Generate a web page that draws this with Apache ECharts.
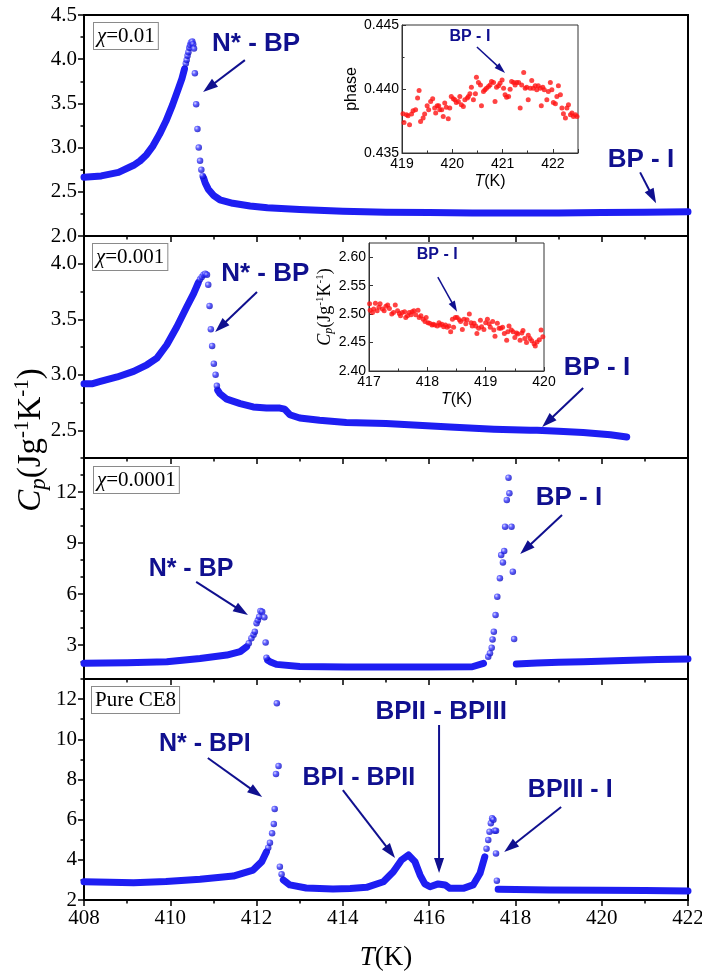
<!DOCTYPE html>
<html>
<head>
<meta charset="utf-8">
<script src="https://cdn.jsdelivr.net/npm/echarts@6/dist/echarts.min.js"></script>
<style>
html, body { margin: 0; padding: 0; background: #fff; }
#chart-container { width: 702px; height: 971px; }
</style>
</head>
<body>
<div id="chart-container"></div>
<script>
var dom = document.getElementById('chart-container');
var myChart = echarts.init(dom);
var option;

// chi = 0.01 : [T (K), Cp (J/gK)]
var chi01Rise = [[408.0, 2.665], [408.4, 2.68], [408.8, 2.72], [409.15, 2.80], [409.3, 2.85], [409.45, 2.92],
  [409.6, 3.02], [409.75, 3.15], [409.9, 3.30], [410.05, 3.48], [410.19, 3.67], [410.27, 3.78], [410.33, 3.89]];
var chi01Peak = [[410.36, 3.95], [410.38, 3.99], [410.40, 4.04], [410.42, 4.08], [410.44, 4.13], [410.46, 4.16],
  [410.48, 4.19], [410.51, 4.20], [410.53, 4.17], [410.55, 4.12], [410.57, 3.84], [410.60, 3.49], [410.63, 3.21],
  [410.66, 3.00], [410.69, 2.85], [410.72, 2.75], [410.75, 2.68]];
var chi01Tail = [[410.77, 2.66], [410.81, 2.60], [410.88, 2.53], [411.0, 2.46], [411.15, 2.41], [411.45, 2.37],
  [411.85, 2.34], [412.25, 2.32], [413.0, 2.30], [414.0, 2.28], [415.0, 2.27], [416.0, 2.265], [417.0, 2.26],
  [418.0, 2.26], [419.0, 2.26], [420.0, 2.265], [421.0, 2.27], [422.0, 2.275]];

// chi = 0.001
var chi001Rise = [[408.0, 2.92], [408.2, 2.92], [408.38, 2.94], [408.77, 2.98], [409.15, 3.03], [409.46, 3.09],
  [409.69, 3.15], [409.92, 3.27], [410.15, 3.43], [410.38, 3.61], [410.54, 3.73], [410.65, 3.83]];
var chi001Peak = [[410.69, 3.86], [410.73, 3.88], [410.77, 3.90], [410.81, 3.91], [410.85, 3.90], [410.88, 3.81],
  [410.91, 3.62], [410.94, 3.41], [410.97, 3.26], [411.01, 3.10], [411.05, 3.00], [411.08, 2.90]];
var chi001Tail = [[411.1, 2.86], [411.15, 2.83], [411.31, 2.78], [411.62, 2.74], [411.92, 2.71], [412.23, 2.70],
  [412.54, 2.70], [412.65, 2.69], [412.77, 2.64], [413.0, 2.61], [413.46, 2.59], [414.08, 2.57], [415.0, 2.56],
  [416.48, 2.53], [417.5, 2.51], [418.34, 2.50], [418.5, 2.50], [419.0, 2.49], [419.57, 2.48], [420.2, 2.46],
  [420.58, 2.44]];

// chi = 0.0001
var chi0001Flat1 = [[408.0, 1.92], [409.0, 1.95], [409.92, 2.02], [410.69, 2.21], [411.31, 2.41], [411.62, 2.61],
  [411.77, 2.90]];
var chi0001Peak1 = [[411.82, 3.10], [411.88, 3.39], [411.93, 3.60], [411.96, 3.78], [412.0, 4.28], [412.03, 4.45],
  [412.06, 4.66], [412.09, 5.00], [412.13, 4.95], [412.18, 4.63], [412.21, 3.14], [412.23, 2.25]];
var chi0001Flat2 = [[412.26, 2.10], [412.31, 2.02], [412.46, 1.86], [413.0, 1.74], [414.08, 1.70], [415.0, 1.70],
  [416.0, 1.71], [417.0, 1.72], [417.26, 1.92]];
var chi0001Peak2 = [[417.37, 2.31], [417.41, 2.51], [417.45, 2.84], [417.47, 3.33], [417.50, 3.78], [417.54, 4.76],
  [417.58, 5.84], [417.64, 6.92], [417.71, 7.86], [417.67, 8.29], [417.74, 8.53], [417.76, 9.96], [417.91, 9.96],
  [417.80, 11.53], [417.86, 11.92], [417.84, 12.84], [417.94, 7.31], [417.97, 3.35]];
var chi0001Flat3 = [[418.02, 1.88], [418.5, 1.94], [419.0, 1.98], [419.57, 2.02], [420.5, 2.09], [421.3, 2.14],
  [422.0, 2.18]];

// pure CE8
var ce8Flat1 = [[408.0, 2.91], [408.6, 2.88], [409.15, 2.86], [409.9, 2.92], [410.69, 3.03], [411.46, 3.19],
  [411.92, 3.49], [412.12, 3.91], [412.23, 4.40]];
var ce8Peak1 = [[412.27, 4.60], [412.31, 4.85], [412.36, 5.32], [412.40, 5.78], [412.42, 6.53], [412.45, 8.27],
  [412.51, 8.67], [412.47, 11.79], [412.54, 3.66], [412.58, 3.28]];
var ce8Mid = [[412.62, 3.00], [412.77, 2.75], [413.15, 2.60], [413.77, 2.55], [414.17, 2.57], [414.55, 2.63],
  [414.94, 2.91], [415.17, 3.41], [415.36, 3.99], [415.52, 4.24], [415.67, 3.91], [415.79, 3.24], [415.90, 2.80],
  [416.02, 2.66], [416.21, 2.80], [416.37, 2.75], [416.48, 2.58], [416.79, 2.58], [417.02, 2.75], [417.18, 3.33],
  [417.29, 4.15]];
var ce8Peak2 = [[417.33, 4.55], [417.37, 4.99], [417.40, 5.40], [417.43, 5.82], [417.46, 6.07], [417.49, 6.00],
  [417.52, 5.45], [417.55, 5.45], [417.55, 4.32], [417.57, 2.96]];
var ce8Flat2 = [[417.60, 2.53], [418.0, 2.52], [418.79, 2.50], [420.0, 2.48], [421.0, 2.47], [422.0, 2.45]];

// inset of chi = 0.01 : phase vs T
var phaseData = [[419.02, 0.43806], [419.04, 0.43739], [419.09, 0.43799], [419.12, 0.43791], [419.15, 0.43721],
  [419.19, 0.43804], [419.22, 0.43830], [419.27, 0.43838], [419.31, 0.43929], [419.34, 0.43988], [419.37, 0.43747],
  [419.42, 0.43773], [419.45, 0.43804], [419.50, 0.43869], [419.53, 0.43838], [419.57, 0.43903], [419.61, 0.43923],
  [419.65, 0.43851], [419.67, 0.43812], [419.70, 0.43869], [419.73, 0.43869], [419.75, 0.43838], [419.79, 0.43838],
  [419.82, 0.43786], [419.85, 0.43890], [419.88, 0.43858], [419.92, 0.43768], [419.95, 0.43851], [419.98, 0.43942],
  [420.02, 0.43923], [420.05, 0.43916], [420.08, 0.43895], [420.12, 0.43903], [420.15, 0.43942], [420.18, 0.43877],
  [420.22, 0.43864], [420.25, 0.43916], [420.30, 0.43929], [420.32, 0.43942], [420.35, 0.43962], [420.38, 0.44014],
  [420.42, 0.43916], [420.46, 0.43962], [420.48, 0.44092], [420.52, 0.44051], [420.56, 0.44032], [420.58, 0.43869],
  [420.62, 0.43981], [420.65, 0.43994], [420.68, 0.44006], [420.72, 0.44019], [420.75, 0.44032], [420.78, 0.44058],
  [420.82, 0.44051], [420.85, 0.43903], [420.88, 0.44014], [420.92, 0.44025], [420.95, 0.44045], [420.99, 0.44071],
  [421.02, 0.44006], [421.05, 0.43955], [421.08, 0.43936], [421.12, 0.43942], [421.15, 0.43999], [421.18, 0.44058],
  [421.22, 0.44051], [421.25, 0.44032], [421.28, 0.44051], [421.32, 0.44051], [421.35, 0.43851], [421.38, 0.44032],
  [421.42, 0.44129], [421.45, 0.44006], [421.48, 0.44014], [421.51, 0.43916], [421.55, 0.44006], [421.58, 0.44066],
  [421.61, 0.44006], [421.65, 0.44025], [421.68, 0.43994], [421.71, 0.44025], [421.75, 0.44006], [421.77, 0.43869],
  [421.80, 0.44014], [421.83, 0.43994], [421.88, 0.43916], [421.91, 0.43981], [421.95, 0.44051], [421.98, 0.43994],
  [422.01, 0.43895], [422.05, 0.43884], [422.08, 0.43942], [422.11, 0.44025], [422.15, 0.43955], [422.18, 0.43851],
  [422.21, 0.43806], [422.25, 0.43773], [422.28, 0.43851], [422.31, 0.43877], [422.35, 0.43799], [422.38, 0.43812],
  [422.41, 0.43786], [422.45, 0.43799], [422.48, 0.43786]];

// inset of chi = 0.001 : Cp vs T
var cpInsetData = [[417.01, 2.518], [417.02, 2.507], [417.06, 2.503], [417.08, 2.509], [417.11, 2.519], [417.14, 2.506],
  [417.17, 2.512], [417.19, 2.518], [417.23, 2.509], [417.26, 2.506], [417.29, 2.514], [417.32, 2.516], [417.35, 2.510],
  [417.39, 2.500], [417.42, 2.503], [417.45, 2.516], [417.49, 2.506], [417.52, 2.501], [417.54, 2.497], [417.57, 2.503],
  [417.61, 2.504], [417.63, 2.494], [417.66, 2.497], [417.69, 2.503], [417.72, 2.499], [417.74, 2.504], [417.77, 2.506],
  [417.80, 2.499], [417.84, 2.507], [417.86, 2.494], [417.89, 2.497], [417.93, 2.491], [417.96, 2.487], [417.98, 2.494],
  [418.01, 2.485], [418.04, 2.484], [418.08, 2.481], [418.10, 2.482], [418.13, 2.481], [418.17, 2.479], [418.20, 2.485],
  [418.22, 2.481], [418.25, 2.482], [418.28, 2.478], [418.31, 2.481], [418.34, 2.477], [418.37, 2.479], [418.40, 2.469],
  [418.43, 2.491], [418.45, 2.477], [418.48, 2.494], [418.51, 2.494], [418.55, 2.490], [418.57, 2.487], [418.60, 2.473],
  [418.63, 2.491], [418.66, 2.483], [418.68, 2.490], [418.72, 2.500], [418.75, 2.485], [418.77, 2.479], [418.80, 2.484],
  [418.83, 2.479], [418.85, 2.466], [418.88, 2.475], [418.91, 2.489], [418.93, 2.478], [418.97, 2.473], [419.00, 2.485],
  [419.03, 2.491], [419.06, 2.483], [419.08, 2.477], [419.12, 2.487], [419.14, 2.472], [419.16, 2.461], [419.20, 2.484],
  [419.23, 2.475], [419.26, 2.475], [419.29, 2.477], [419.32, 2.466], [419.36, 2.454], [419.38, 2.469], [419.40, 2.479],
  [419.44, 2.472], [419.47, 2.469], [419.50, 2.459], [419.53, 2.467], [419.55, 2.465], [419.59, 2.454], [419.62, 2.467],
  [419.64, 2.471], [419.67, 2.457], [419.70, 2.450], [419.73, 2.463], [419.76, 2.457], [419.79, 2.453], [419.83, 2.448],
  [419.85, 2.444], [419.88, 2.451], [419.92, 2.455], [419.95, 2.472], [419.98, 2.460]];

// y axis ticks of the four panels
var yMin = [2, 2.25, 1, 2];
var yMax = [4.5, 4.25, 14, 13];
var yMajor = [[2.0, 2.5, 3.0, 3.5, 4.0, 4.5], [2.5, 3.0, 3.5, 4.0], [3, 6, 9, 12], [2, 4, 6, 8, 10, 12]];
var yMinor = [[2.25, 2.75, 3.25, 3.75, 4.25], [2.25, 2.75, 3.25, 3.75, 4.25], [1, 2, 4, 5, 7, 8, 10, 11, 13, 14],
  [3, 5, 7, 9, 11, 13]];
var yDigits = [1, 1, 0, 0];

var navy = '#10108f';
var serif = 'Liberation Serif';
var sans = 'Liberation Sans';
var sphere = {
  type: 'radial', x: 0.35, y: 0.35, r: 0.75,
  colorStops: [{offset: 0, color: '#d0d0ff'}, {offset: 0.4, color: '#3838ff'}, {offset: 1, color: '#0000b0'}]
};

var grids = [];
var xAxes = [];
var yAxes = [];
var series = [];
var tops = [15, 236, 458, 679];
var heights = [221, 222, 221, 221];

for (var g = 0; g < 4; g++) {
  grids.push({left: 84, right: 14, top: tops[g], height: heights[g], show: true, outerBoundsMode: 'none',
    borderColor: '#000', borderWidth: 2, backgroundColor: 'transparent'});
  var last = g === 3;
  xAxes.push({
    type: 'value', gridIndex: g, min: 408, max: 422, interval: 2,
    axisLine: {show: true, onZero: false, lineStyle: {color: '#000', width: 2}},
    axisTick: {show: true, inside: false, length: 6, lineStyle: {color: '#000', width: 1.5}},
    minorTick: {show: true, splitNumber: 2, length: 3.5, lineStyle: {color: '#000', width: 1.5}},
    splitLine: {show: false},
    axisLabel: {show: last, fontFamily: serif, fontSize: 21, color: '#000', margin: 8},
    name: last ? '{i|T}(K)' : '',
    nameLocation: 'middle', nameGap: 44,
    nameTextStyle: {fontFamily: serif, fontSize: 27, color: '#000',
      rich: {i: {fontFamily: serif, fontSize: 27, fontStyle: 'italic', color: '#000'}}}
  });
}

// inset grids (index 4, 5)
grids.push({left: 402, top: 25, width: 176, height: 128, show: true, outerBoundsMode: 'none',
  borderColor: '#333', borderWidth: 1, backgroundColor: '#fff', z: 5});
grids.push({left: 369, top: 243, width: 175, height: 128, show: true, outerBoundsMode: 'none',
  borderColor: '#333', borderWidth: 1, backgroundColor: '#fff', z: 5});

function insetX(gi, min, max, showMax) {
  return {
    type: 'value', gridIndex: gi, min: min, max: max, interval: 1, z: 6,
    axisLine: {show: true, onZero: false, lineStyle: {color: '#333', width: 1}},
    axisTick: {show: true, inside: true, length: 4, lineStyle: {color: '#333'}},
    minorTick: {show: true, splitNumber: 2, length: 2.5, lineStyle: {color: '#333'}},
    splitLine: {show: false},
    axisLabel: {fontFamily: sans, fontSize: 14, color: '#000', margin: 4, showMaxLabel: showMax},
    name: '{i|T}(K)', nameLocation: 'middle', nameGap: 21,
    nameTextStyle: {fontFamily: sans, fontSize: 16, color: '#000',
      rich: {i: {fontFamily: sans, fontSize: 16, fontStyle: 'italic', color: '#000'}}}
  };
}
xAxes.push(insetX(4, 419, 422.5, false));
xAxes.push(insetX(5, 417, 420, true));

for (g = 0; g < 4; g++) {
  (function (g) {
    yAxes.push({
      type: 'value', gridIndex: g, min: yMin[g], max: yMax[g], position: 'left',
      axisLine: {show: true, onZero: false, lineStyle: {color: '#000', width: 2}},
      axisTick: {show: true, inside: false, length: 6, customValues: yMajor[g], lineStyle: {color: '#000', width: 1.5}},
      axisLabel: {customValues: yMajor[g], fontFamily: serif, fontSize: 21, color: '#000', margin: 7,
        formatter: function (v) { return v.toFixed(yDigits[g]); }},
      splitLine: {show: false}
    });
  })(g);
}

yAxes.push({
  type: 'value', gridIndex: 4, min: 0.435, max: 0.445, interval: 0.005, z: 6,
  axisLine: {show: true, onZero: false, lineStyle: {color: '#333', width: 1}},
  axisTick: {show: true, inside: true, length: 4, lineStyle: {color: '#333'}},
  minorTick: {show: true, splitNumber: 2, length: 2.5, lineStyle: {color: '#333'}},
  splitLine: {show: false},
  axisLabel: {fontFamily: sans, fontSize: 14, color: '#000', margin: 3,
    formatter: function (v) { return v.toFixed(3); }},
  name: 'phase', nameLocation: 'middle', nameRotate: 90, nameGap: 40,
  nameTextStyle: {fontFamily: sans, fontSize: 16, color: '#000'}
});
yAxes.push({
  type: 'value', gridIndex: 5, min: 2.4, max: 2.625, interval: 0.05, z: 6,
  axisLine: {show: true, onZero: false, lineStyle: {color: '#333', width: 1}},
  axisTick: {show: true, inside: true, length: 4, lineStyle: {color: '#333'}},
  splitLine: {show: false},
  axisLabel: {fontFamily: sans, fontSize: 14, color: '#000', margin: 3, showMaxLabel: false,
    formatter: function (v) { return v.toFixed(2); }},
  name: '{c|C}{p|p}{n|(Jg}{s|-1}{n|K}{s|-1}{n|)}', nameLocation: 'middle', nameRotate: 90, nameGap: 32,
  nameTextStyle: {fontFamily: serif, fontSize: 18, color: '#000', rich: {
    c: {fontFamily: serif, fontSize: 18, fontStyle: 'italic', lineHeight: 20, color: '#000'},
    p: {fontFamily: serif, fontSize: 12, fontStyle: 'italic', lineHeight: 11, verticalAlign: 'bottom', color: '#000'},
    n: {fontFamily: serif, fontSize: 18, lineHeight: 20, color: '#000'},
    s: {fontFamily: serif, fontSize: 11, lineHeight: 9, verticalAlign: 'top', color: '#000'}
  }}
});

// minor tick overlays for main panels (index 6..9)
for (g = 0; g < 4; g++) {
  yAxes.push({
    type: 'value', gridIndex: g, min: yMin[g], max: yMax[g], position: 'left', offset: 0,
    axisLine: {show: false},
    axisTick: {show: true, inside: false, length: 3.5, customValues: yMinor[g], lineStyle: {color: '#000', width: 1.5}},
    axisLabel: {show: false},
    splitLine: {show: false}
  });
}

function band(g, data) {
  return {type: 'line', xAxisIndex: g, yAxisIndex: g, data: data, symbol: 'none', showSymbol: false,
    lineStyle: {color: '#1e1ef2', width: 7, cap: 'round', join: 'round'}, silent: true, animation: false, z: 2};
}
function dots(g, data) {
  return {type: 'scatter', xAxisIndex: g, yAxisIndex: g, data: data, symbolSize: 6.5,
    itemStyle: {color: sphere}, silent: true, animation: false, z: 3};
}
function redDots(g, data) {
  return {type: 'scatter', xAxisIndex: g, yAxisIndex: g, data: data, symbolSize: 5,
    itemStyle: {color: '#ff1414'}, silent: true, animation: false, z: 7};
}

series.push(band(0, chi01Rise), dots(0, chi01Peak), band(0, chi01Tail));
series.push(band(1, chi001Rise), dots(1, chi001Peak), band(1, chi001Tail));
series.push(band(2, chi0001Flat1), dots(2, chi0001Peak1), band(2, chi0001Flat2), dots(2, chi0001Peak2),
  band(2, chi0001Flat3));
series.push(band(3, ce8Flat1), dots(3, ce8Peak1), band(3, ce8Mid), dots(3, ce8Peak2), band(3, ce8Flat2));
series.push(redDots(4, phaseData), redDots(5, cpInsetData));

option = {
  backgroundColor: '#fff',
  animation: false,
  grid: grids,
  xAxis: xAxes,
  yAxis: yAxes,
  series: series
};

if (option && typeof option === 'object') {
  myChart.setOption(option);
}

// annotations, placed in data coordinates of their panel
var notes = [
  {g: 0, text: 'N* - BP', size: 26, at: [411.99, 4.17], from: [411.73, 3.99], to: [410.76, 3.63]},
  {g: 0, text: 'BP - I', size: 26, at: [420.91, 2.86], from: [420.89, 2.72], to: [421.26, 2.37]},
  {g: 4, text: 'BP - I', size: 16, at: [420.35, 0.44406], from: [420.49, 0.44328], to: [421.05, 0.44125]},
  {g: 1, text: 'N* - BP', size: 26, at: [412.2, 3.91], from: [412.01, 3.745], to: [411.04, 3.385]},
  {g: 1, text: 'BP - I', size: 26, at: [419.89, 3.06], from: [419.57, 2.88], to: [418.62, 2.53]},
  {g: 5, text: 'BP - I', size: 16, at: [418.17, 2.604], from: [418.18, 2.565], to: [418.51, 2.504]},
  {g: 2, text: 'N* - BP', size: 25, at: [410.48, 7.47], from: [410.6, 6.71], to: [411.8, 4.76]},
  {g: 2, text: 'BP - I', size: 26, at: [419.24, 11.65], from: [419.08, 10.65], to: [418.11, 8.35]},
  {g: 3, text: 'N* - BPI', size: 25, at: [410.8, 9.76], from: [410.87, 9.07], to: [412.13, 7.13]},
  {g: 3, text: 'BPI - BPII', size: 25, at: [414.37, 8.07], from: [414.0, 7.47], to: [415.21, 4.09]},
  {g: 3, text: 'BPII - BPIII', size: 26, at: [416.28, 11.36], from: [416.23, 10.71], to: [416.23, 3.34]},
  {g: 3, text: 'BPIII - I', size: 25, at: [419.27, 7.47], from: [419.06, 6.63], to: [417.74, 4.39]}
];

function toPx(g, pt) {
  return myChart.convertToPixel({xAxisIndex: g, yAxisIndex: g}, pt);
}

function arrow(p, q, small) {
  var dx = q[0] - p[0], dy = q[1] - p[1];
  var len = Math.sqrt(dx * dx + dy * dy);
  var ux = dx / len, uy = dy / len;
  var hl = small ? 11 : 15, hw = small ? 3.5 : 5;
  var bx = q[0] - ux * hl, by = q[1] - uy * hl;
  return [
    {type: 'line', z: 100, shape: {x1: p[0], y1: p[1], x2: bx + ux * 2, y2: by + uy * 2},
      style: {stroke: navy, lineWidth: small ? 1.5 : 2}},
    {type: 'polygon', z: 100, shape: {points: [[q[0], q[1]], [bx - uy * hw, by + ux * hw], [bx + uy * hw, by - ux * hw]]},
      style: {fill: navy}}
  ];
}

var elements = [];
notes.forEach(function (n) {
  var c = toPx(n.g, n.at);
  elements.push({type: 'text', z: 100, x: c[0], y: c[1], style: {
    text: n.text, fill: navy, fontFamily: sans, fontWeight: 'bold', fontSize: n.size,
    font: 'bold ' + n.size + 'px "' + sans + '"',
    align: 'center', verticalAlign: 'middle', textAlign: 'center', textVerticalAlign: 'middle'}});
  elements = elements.concat(arrow(toPx(n.g, n.from), toPx(n.g, n.to), n.size < 20));
});

// boxed sample labels
var boxes = [
  {x: 94, y: 23, text: '{i|χ}=0.01'},
  {x: 93, y: 244, text: '{i|χ}=0.001'},
  {x: 94, y: 467, text: '{i|χ}=0.0001'},
  {x: 92, y: 687, text: 'Pure CE8'}
];
boxes.forEach(function (b) {
  elements.push({type: 'text', z: 100, x: b.x, y: b.y, style: {
    text: b.text, fill: '#000', fontFamily: serif, fontSize: 21,
    rich: {i: {fontFamily: serif, fontSize: 21, fontStyle: 'italic', fill: '#000'}},
    backgroundColor: '#fff', borderColor: '#8a8a8a', borderWidth: 1, padding: [3, 3, 2, 3],
    align: 'left', verticalAlign: 'top', textAlign: 'left', textVerticalAlign: 'top'}});
});

// shared y axis title
elements.push({type: 'text', z: 100, x: 31, y: 440, rotation: Math.PI / 2, style: {
  text: '{c|C}{p|p}{n|(Jg}{s|-1}{n|K}{s|-1}{n|)}',
  align: 'center', verticalAlign: 'middle', textAlign: 'center', textVerticalAlign: 'middle',
  rich: {
    c: {fontFamily: serif, fontSize: 33, fontStyle: 'italic', lineHeight: 38, fill: '#000'},
    p: {fontFamily: serif, fontSize: 23, fontStyle: 'italic', lineHeight: 20, verticalAlign: 'bottom', fill: '#000'},
    n: {fontFamily: serif, fontSize: 33, lineHeight: 38, fill: '#000'},
    s: {fontFamily: serif, fontSize: 21, lineHeight: 18, verticalAlign: 'top', fill: '#000'}
  }}});

myChart.setOption({graphic: {elements: elements}});

window.addEventListener('resize', myChart.resize);
</script>
</body>
</html>
